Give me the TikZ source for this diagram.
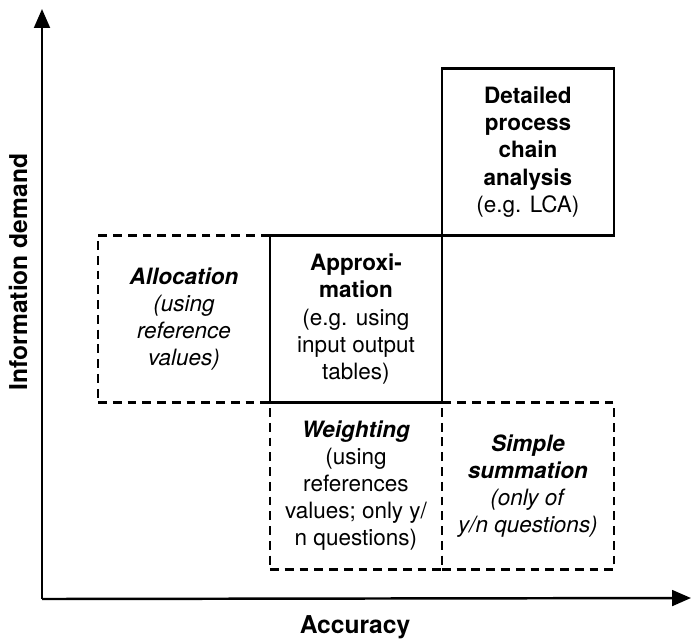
\documentclass[tikz,border=0pt]{standalone}
\usepackage{fontspec}
\setmainfont{TeX Gyre Heros}
\usetikzlibrary{arrows.meta,positioning}

\tikzset{
  cell/.style={minimum width=3.44cm,minimum height=3.34cm,outer sep=0pt,inner sep=0pt,
    align=center,font=\fontsize{12.8}{15.4}\selectfont},
  solidcell/.style={cell,draw,line width=1.4pt},
  dashcell/.style={cell,draw,line width=1.4pt,dash pattern=on 5pt off 3.4pt},
  axislabel/.style={font=\fontsize{14}{16}\selectfont\bfseries}
}

\begin{document}
\begin{tikzpicture}[x=0.02cm,y=-0.02cm,line join=miter]
    \useasboundingbox (0,0) rectangle (692,640);
    % dashed cells first, solid ones on top
    \node[dashcell] (alloc) at (184,319)
        {\textbf{\textit{Allocation}}\\\textit{(using}\\\textit{reference}\\\textit{values)}};
    \node[dashcell,below right=0pt of alloc] (weight)
        {\textbf{\textit{Weighting}}\\(using\\references\\values; only y/\\n questions)};
    \node[dashcell,right=0pt of weight] (simple)
        {\textbf{\textit{Simple}}\\\textbf{\textit{summation}}\\\textit{(only of}\\\textit{y/n questions)}};
    \node[solidcell,above=0pt of weight] (approx)
        {\textbf{Approxi-}\\\textbf{mation}\\(e.g. using\\input output\\tables)};
    \node[solidcell,above right=0pt of approx] (detail)
        {\textbf{Detailed}\\\textbf{process}\\\textbf{chain}\\\textbf{analysis}\\(e.g. LCA)};
    % axes
    \coordinate (origin) at (42,599);
    \coordinate (ytip) at (42,9);
    \coordinate (xtip) at (691,598);
    \draw[line width=1.4pt,-{Triangle[length=10.8pt,width=9pt]}] (origin) -- (ytip);
    \draw[line width=1.4pt,-{Triangle[length=10.8pt,width=9pt]}] (origin) -- (xtip);
    \node[axislabel] (accuracy) at (355,627) {Accuracy};
    \node[axislabel,rotate=90] (demand) at (18,272) {Information demand};
\end{tikzpicture}
\end{document}
